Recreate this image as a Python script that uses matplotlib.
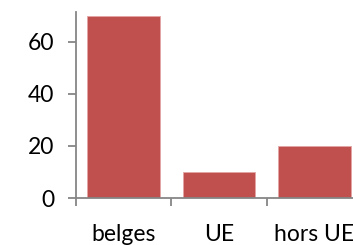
import matplotlib.pyplot as plt

categories = ["belges", "UE", "hors UE"]
values = [70, 10, 20]
y_ticks = [0, 20, 40, 60]

BAR_COLOR = "#C0504D"
AXIS_COLOR = "#868686"

plt.rcParams["font.family"] = ["Lato", "DejaVu Sans"]

fig = plt.figure(figsize=(3.53, 2.45), dpi=100)
# axes run past the right edge, as in the reference (chart is cropped)
ax = fig.add_axes([76 / 353, 47 / 245, 286 / 353, 186 / 245])

x = list(range(len(categories)))
ax.bar(x, values, width=0.76, color=BAR_COLOR, edgecolor="#e3a5a3", linewidth=0.6, zorder=2)

ax.set_xlim(-0.5, len(categories) - 0.5)
ax.set_ylim(0, 71.5)

# category labels centered, tick marks at category boundaries
ax.set_xticks(x)
ax.set_xticklabels(categories, fontsize=16.5)
ax.tick_params(axis="x", length=0, pad=19)
ax.set_xticks([i - 0.5 for i in range(len(categories) + 1)], minor=True)
ax.tick_params(axis="x", which="minor", length=6, width=1.3, color=AXIS_COLOR, direction="out")

ax.set_yticks(y_ticks)
ax.tick_params(axis="y", length=5.5, width=1.3, color=AXIS_COLOR, pad=10, labelsize=16.5)

for side in ["top", "right"]:
    ax.spines[side].set_visible(False)
for side in ["left", "bottom"]:
    ax.spines[side].set_color(AXIS_COLOR)
    ax.spines[side].set_linewidth(1.3)

fig.savefig("out.png", dpi=100)
